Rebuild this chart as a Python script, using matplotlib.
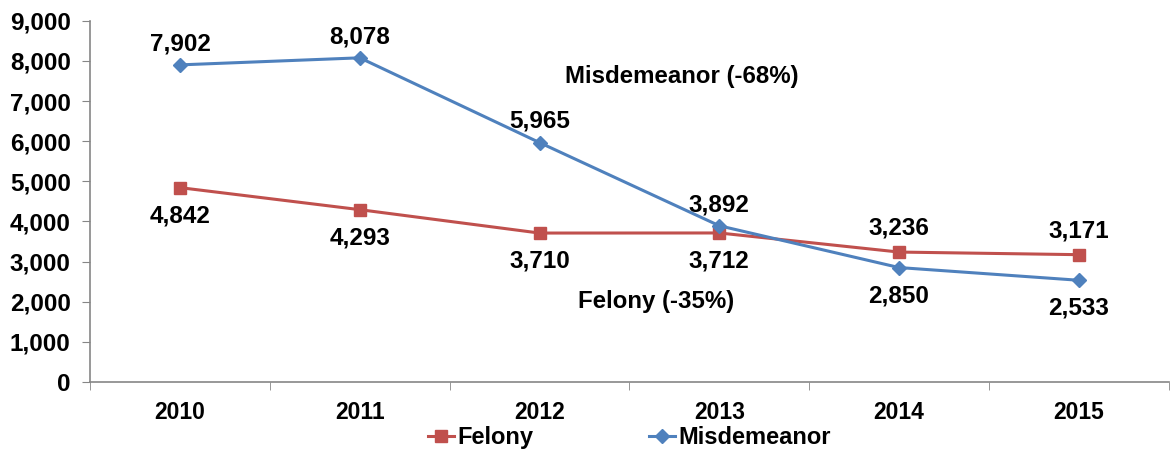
import numpy as np
import matplotlib.pyplot as plt
from matplotlib.ticker import FuncFormatter, FixedLocator

plt.rcParams['font.family'] = ['Liberation Sans', 'DejaVu Sans']
plt.rcParams['font.weight'] = 'bold'

# datos
anios = ['2010', '2011', '2012', '2013', '2014', '2015']
felony = [4842, 4293, 3710, 3712, 3236, 3171]
misdemeanor = [7902, 8078, 5965, 3892, 2850, 2533]

# posicion de etiquetas: True = arriba
fel_arriba = [False, False, False, False, True, True]
mis_arriba = [True, True, True, True, False, False]

rojo = '#C0504D'
azul = '#4F81BD'
gris = '#868686'

fig = plt.figure(figsize=(11.71, 4.53), dpi=100)
ax = fig.add_axes([0.077, 0.157, 0.921, 0.797])

x = np.arange(len(anios))
ax.plot(x, felony, color=rojo, lw=2.2, marker='s', ms=8, label='Felony')
ax.plot(x, misdemeanor, color=azul, lw=2.2, marker='D', ms=7, label='Misdemeanor')

for xi, v, up in zip(x, felony, fel_arriba):
    ax.annotate(f'{v:,}', (xi, v), xytext=(0, 9 if up else -12), textcoords='offset points',
                ha='center', va='bottom' if up else 'top', fontsize=17.5, fontweight='bold')
for xi, v, up in zip(x, misdemeanor, mis_arriba):
    ax.annotate(f'{v:,}', (xi, v), xytext=(0, 7 if up else -12), textcoords='offset points',
                ha='center', va='bottom' if up else 'top', fontsize=17.5, fontweight='bold')

ax.text(2.79, 7606, 'Misdemeanor (-68%)', ha='center', va='center', fontsize=17.3, fontweight='bold')
ax.text(2.65, 1995, 'Felony (-35%)', ha='center', va='center', fontsize=17.3, fontweight='bold')

ax.set_xlim(-0.5, len(anios) - 0.5)
ax.set_ylim(0, 9000)
ax.set_yticks(np.arange(0, 9001, 1000))
ax.yaxis.set_major_formatter(FuncFormatter(lambda v, p: f'{int(v):,}'))
ax.set_xticks(x)
ax.set_xticklabels(anios)
ax.xaxis.set_minor_locator(FixedLocator(np.arange(-0.5, len(anios), 1.0)))
ax.tick_params(axis='x', which='major', length=0, pad=14, labelsize=16.5)
ax.tick_params(axis='x', which='minor', length=6, color=gris, direction='out')
ax.tick_params(axis='y', length=6, color=gris, labelsize=17.5, pad=8)

for s in ['top', 'right']:
    ax.spines[s].set_visible(False)
for s in ['left', 'bottom']:
    ax.spines[s].set_color(gris)
    ax.spines[s].set_linewidth(1.2)

ax.legend(loc='center', bbox_to_anchor=(0.5, -0.155), ncol=2, frameon=False,
          handlelength=1.1, handletextpad=0.15, columnspacing=4.9,
          borderpad=0, prop={'weight': 'bold', 'size': 17})

fig.savefig('out.png', dpi=100)
